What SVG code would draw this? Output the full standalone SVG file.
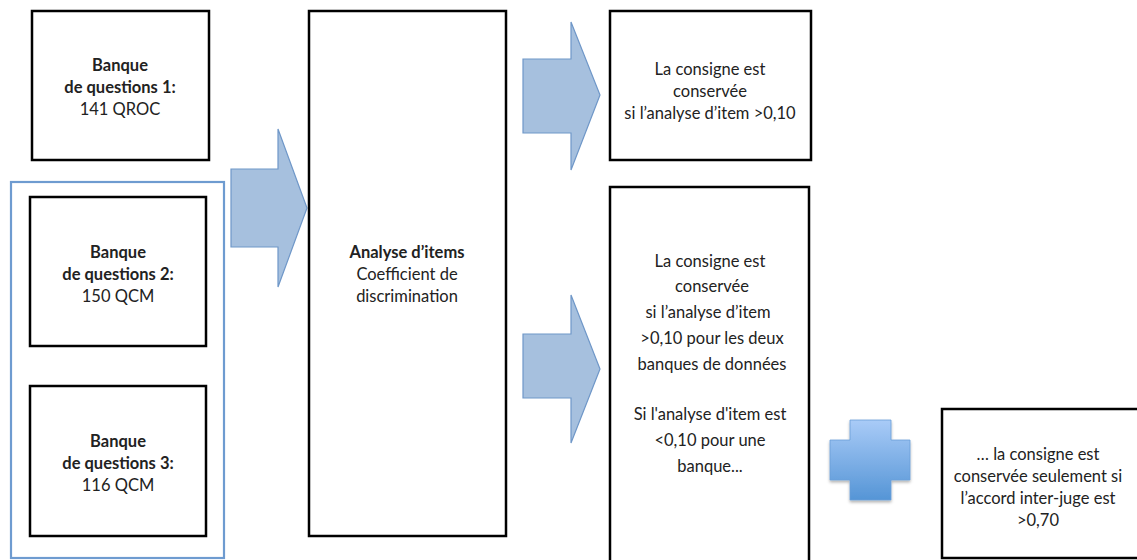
<svg xmlns="http://www.w3.org/2000/svg" width="1137" height="560" viewBox="0 0 1137 560">
<defs>
<style>
.box{fill:#fff;stroke:#000;stroke-width:2.5}
.arrow{fill:#a6c0de;stroke:#6f97c8;stroke-width:1.2}
text{font-family:Lato,"Liberation Sans",sans-serif;font-size:16.5px;fill:#222;text-anchor:middle}
.b{font-weight:bold}
</style>
<linearGradient id="pg" x1="0" y1="0" x2="0" y2="1">
<stop offset="0" stop-color="#a9cbf7"/>
<stop offset="1" stop-color="#5595d6"/>
</linearGradient>
<filter id="sh" x="-20%" y="-20%" width="140%" height="140%">
<feDropShadow dx="0" dy="2" stdDeviation="1.5" flood-color="#000" flood-opacity="0.3"/>
</filter>
</defs>
<rect x="0" y="0" width="1137" height="560" fill="#fff"/>
<g id="connectors">
<path class="arrow" d="M231,169 H278 V129 L307,208 L278,287 V247 H231 Z"/>
<path class="arrow" d="M523,59 H571 V22 L600,95 L571,170 V133 H523 Z"/>
<path class="arrow" d="M523,334 H571 V295 L600,369 L571,443 V398 H523 Z"/>
<path d="M850,420 H891 V440 H910 V480 H891 V500 H850 V480 H830 V440 H850 Z" fill="url(#pg)" stroke="#6a9fd8" stroke-width="0.8" filter="url(#sh)"/>
</g>
<g id="group-qcm">
<rect x="11" y="182" width="213" height="376" fill="none" stroke="#6e9bd0" stroke-width="2.2"/>
</g>
<g id="bank1">
<rect class="box" x="32" y="11" width="177" height="149"/>
<text class="b" x="120" y="71">Banque</text>
<text class="b" x="120" y="93">de questions 1:</text>
<text x="120" y="115">141 QROC</text>
</g>
<g id="bank2">
<rect class="box" x="30" y="197" width="176" height="149"/>
<text class="b" x="118" y="258">Banque</text>
<text class="b" x="118" y="280">de questions 2:</text>
<text x="118" y="302">150 QCM</text>
</g>
<g id="bank3">
<rect class="box" x="30" y="386" width="176" height="150"/>
<text class="b" x="118" y="447">Banque</text>
<text class="b" x="118" y="469">de questions 3:</text>
<text x="118" y="491">116 QCM</text>
</g>
<g id="analysis">
<rect class="box" x="309" y="11" width="197" height="525"/>
<text class="b" x="407" y="258">Analyse d’items</text>
<text x="407" y="280">Coefficient de</text>
<text x="407" y="302">discrimination</text>
</g>
<g id="result1">
<rect class="box" x="610" y="11" width="201" height="149"/>
<text x="710" y="75">La consigne est</text>
<text x="710" y="97">conservée</text>
<text x="710" y="119">si l’analyse d’item &gt;0,10</text>
</g>
<g id="result2">
<rect class="box" x="610" y="187" width="199" height="380"/>
<text x="710" y="267">La consigne est</text>
<text x="712" y="292">conservée</text>
<text x="708" y="318">si l’analyse d’item</text>
<text x="712" y="344">&gt;0,10 pour les deux</text>
<text x="712" y="370">banques de données</text>
<text x="710" y="420">Si l'analyse d'item est</text>
<text x="710" y="446">&lt;0,10 pour une</text>
<text x="710" y="472">banque...</text>
</g>
<g id="result3">
<rect class="box" x="942" y="409" width="205" height="149"/>
<text x="1038" y="460">… la consigne est</text>
<text x="1038" y="482">conservée seulement si</text>
<text x="1038" y="504">l’accord inter-juge est</text>
<text x="1038" y="526">&gt;0,70</text>
</g>
</svg>
